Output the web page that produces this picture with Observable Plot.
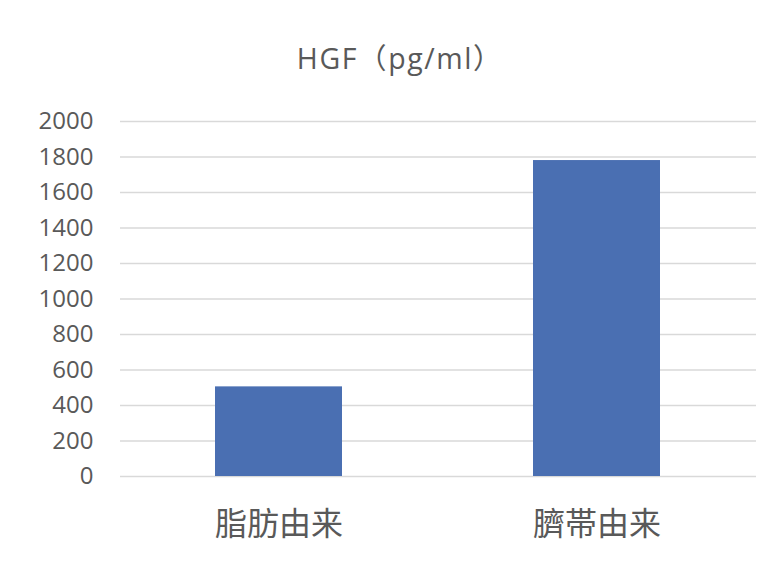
<!DOCTYPE html>
<html>
<head>
<meta charset="utf-8">
<script src="https://cdn.jsdelivr.net/npm/d3@7"></script>
<script src="https://cdn.jsdelivr.net/npm/@observablehq/plot@0.6"></script>
<style>
  body { margin: 0; background: #fff; }
  #wrap { position: relative; width: 782px; height: 584px; overflow: hidden; }
  #title { position: absolute; left: 0; top: 43px; width: 800px; text-align: center;
           font-family: "Open Sans", "Noto Sans CJK SC", sans-serif; font-size: 28.5px;
           letter-spacing: 1.6px; line-height: 30px; color: #595959; }
  #chart { position: absolute; left: 0; top: 100px; }
</style>
</head>
<body>
<div id="wrap">
  <div id="title">HGF（pg/ml）</div>
  <div id="chart"></div>
</div>
<script>
const categories = ["脂肪由来", "臍帯由来"];
const values = [505, 1780];
const yTicks = [0, 200, 400, 600, 800, 1000, 1200, 1400, 1600, 1800, 2000];

const data = categories.map((c, i) => ({category: c, value: values[i]}));

const chart = Plot.plot({
  width: 782,
  height: 484,
  marginLeft: 120,
  marginRight: 26,
  marginTop: 21,
  marginBottom: 108,
  style: {fontFamily: "'Noto Sans CJK SC', 'Noto Sans', sans-serif", color: "#595959", background: "#fff"},
  x: {domain: categories, paddingInner: 0.6, paddingOuter: 0.3, label: null},
  y: {domain: [0, 2000], label: null},
  marks: [
    Plot.gridY(yTicks, {stroke: "#d9d9d9", strokeOpacity: 1, strokeWidth: 1.5}),
    Plot.barY(data, {x: "category", y: "value", fill: "#4a6fb2"}),
    Plot.axisY(yTicks, {tickSize: 0, tickPadding: 27, fontSize: 24, fill: "#595959", label: null,
      tickFormat: d => String(d), fontFamily: "'Open Sans', sans-serif"}),
    Plot.axisX({tickSize: 0, tickPadding: 36, fontSize: 32, fill: "#595959", label: null})
  ]
});
document.getElementById("chart").appendChild(chart);
</script>
</body>
</html>
